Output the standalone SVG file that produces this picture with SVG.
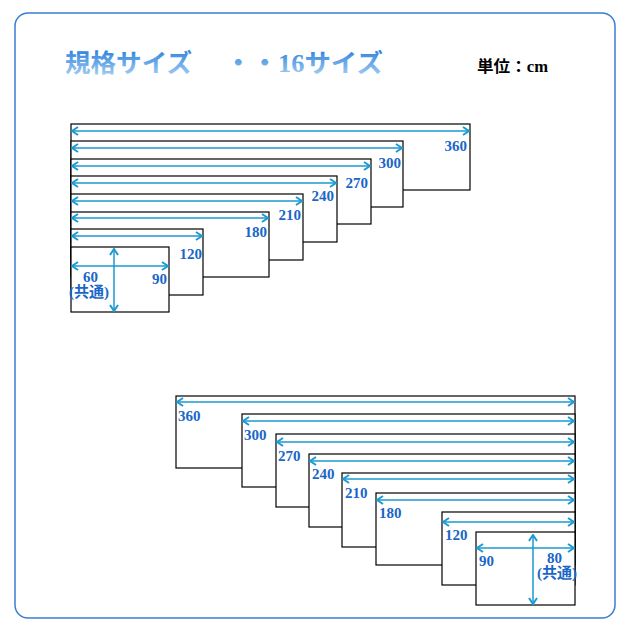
<svg xmlns="http://www.w3.org/2000/svg" width="630" height="630" viewBox="0 0 630 630">
<defs>
<linearGradient id="tg" x1="0" y1="0" x2="0" y2="1"><stop offset="0" stop-color="#2a7fdc"/><stop offset="1" stop-color="#a9d2f3"/></linearGradient>
<marker id="ah" viewBox="0 0 10 10" refX="9" refY="5" markerWidth="10" markerHeight="10" markerUnits="userSpaceOnUse" orient="auto-start-reverse"><polyline points="3,1 9,5 3,9" fill="none" stroke="#1b9ad2" stroke-width="2"/></marker>
<style>
.r{fill:#fff;stroke:#000;stroke-width:1.2}
.a{stroke:#1b9ad2;stroke-width:1.5;marker-start:url(#ah);marker-end:url(#ah)}
.l{font-family:"Liberation Serif","Noto Sans CJK JP",serif;font-weight:bold;font-size:15px;fill:#1a66c8}
.t{font-family:"Liberation Serif","Noto Sans CJK JP",serif;font-weight:bold;font-size:25px;fill:url(#tg)}
</style>
</defs>
<rect x="15" y="13" width="600" height="605" rx="13" fill="#fff" stroke="#3a7fd0" stroke-width="1.5"/>
<text class="t" x="65" y="72" textLength="127" lengthAdjust="spacingAndGlyphs">規格サイズ</text>
<text class="t" x="225" y="72" textLength="158" lengthAdjust="spacingAndGlyphs">・・16サイズ</text>
<text x="477" y="72" font-family="Liberation Serif,'Noto Sans CJK JP',serif" font-weight="bold" font-size="16" textLength="71" lengthAdjust="spacingAndGlyphs">単位：cm</text>
<g id="top">
<rect class="r" x="71" y="124" width="399" height="66"/>
<rect class="r" x="71" y="141" width="332" height="66"/>
<rect class="r" x="71" y="159" width="300" height="65"/>
<rect class="r" x="71" y="176" width="266" height="66"/>
<rect class="r" x="71" y="194" width="232" height="66"/>
<rect class="r" x="71" y="212" width="198" height="65"/>
<rect class="r" x="71" y="229" width="132" height="66"/>
<rect class="r" x="71" y="247" width="98" height="65"/>
</g>
<g id="bottom">
<rect class="r" x="176" y="396" width="399" height="72"/>
<rect class="r" x="242" y="414" width="333" height="73"/>
<rect class="r" x="276" y="434" width="299" height="73"/>
<rect class="r" x="309" y="454" width="266" height="73"/>
<rect class="r" x="342" y="473" width="233" height="74"/>
<rect class="r" x="376" y="493" width="199" height="72"/>
<rect class="r" x="442" y="512" width="133" height="73"/>
<rect class="r" x="476" y="532" width="99" height="73"/>
</g>
<g id="connectors">
<line class="a" x1="72" y1="131" x2="469" y2="131"/>
<line class="a" x1="72" y1="148" x2="402" y2="148"/>
<line class="a" x1="72" y1="166" x2="370" y2="166"/>
<line class="a" x1="72" y1="183" x2="336" y2="183"/>
<line class="a" x1="72" y1="201" x2="302" y2="201"/>
<line class="a" x1="72" y1="218" x2="268" y2="218"/>
<line class="a" x1="72" y1="236" x2="202" y2="236"/>
<line class="a" x1="72" y1="266" x2="168" y2="266"/>
<line class="a" x1="114" y1="249" x2="114" y2="311"/>
<line class="a" x1="177" y1="402" x2="574" y2="402"/>
<line class="a" x1="243" y1="421" x2="574" y2="421"/>
<line class="a" x1="277" y1="442" x2="574" y2="442"/>
<line class="a" x1="310" y1="461" x2="574" y2="461"/>
<line class="a" x1="343" y1="479" x2="574" y2="479"/>
<line class="a" x1="377" y1="500" x2="574" y2="500"/>
<line class="a" x1="443" y1="522" x2="574" y2="522"/>
<line class="a" x1="477" y1="548" x2="574" y2="548"/>
<line class="a" x1="533" y1="535" x2="533" y2="604"/>
</g>
<g id="labels" text-anchor="end">
<text class="l" x="467" y="151">360</text>
<text class="l" x="401" y="168">300</text>
<text class="l" x="368" y="188">270</text>
<text class="l" x="334" y="201">240</text>
<text class="l" x="301" y="220">210</text>
<text class="l" x="267" y="237">180</text>
<text class="l" x="202" y="259">120</text>
<text class="l" x="167" y="284">90</text>
<text class="l" x="98" y="282">60</text>
<text class="l" x="109" y="297">(共通)</text>
</g>
<g id="labels2">
<text class="l" x="178" y="421">360</text>
<text class="l" x="244" y="440">300</text>
<text class="l" x="278" y="461">270</text>
<text class="l" x="312" y="479">240</text>
<text class="l" x="345" y="498">210</text>
<text class="l" x="379" y="518">180</text>
<text class="l" x="445" y="540">120</text>
<text class="l" x="479" y="566">90</text>
<text class="l" x="547" y="563">80</text>
<text class="l" x="537" y="578">(共通)</text>
</g>
</svg>
